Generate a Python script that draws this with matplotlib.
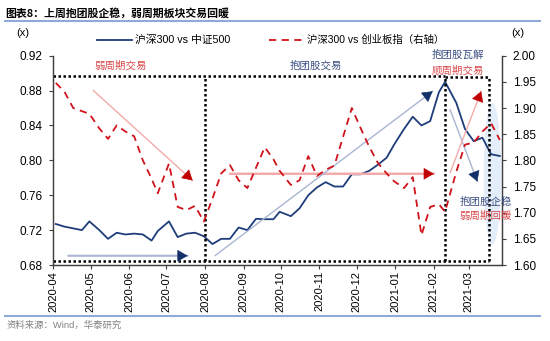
import matplotlib
matplotlib.use('Agg')
import matplotlib.pyplot as plt
import matplotlib.dates as mdates
from matplotlib.lines import Line2D
from matplotlib.patches import Ellipse
from matplotlib.ticker import FormatStrFormatter
import numpy as np
import pandas as pd

plt.rcParams['font.family'] = ['Liberation Sans', 'Noto Sans CJK SC']

# ---------------- data ----------------
dates = pd.to_datetime([
    '2020-04-03', '2020-04-10', '2020-04-17', '2020-04-24', '2020-04-30',
    '2020-05-08', '2020-05-15', '2020-05-22', '2020-05-29', '2020-06-05',
    '2020-06-12', '2020-06-19', '2020-06-24', '2020-07-03', '2020-07-10',
    '2020-07-17', '2020-07-24', '2020-07-31', '2020-08-07', '2020-08-14',
    '2020-08-21', '2020-08-28', '2020-09-04', '2020-09-11', '2020-09-18',
    '2020-09-25', '2020-09-30', '2020-10-09', '2020-10-16', '2020-10-23',
    '2020-10-30', '2020-11-06', '2020-11-13', '2020-11-20', '2020-11-27',
    '2020-12-04', '2020-12-11', '2020-12-18', '2020-12-25', '2020-12-31',
    '2021-01-08', '2021-01-15', '2021-01-22', '2021-01-29', '2021-02-05',
    '2021-02-10', '2021-02-19', '2021-02-26', '2021-03-05', '2021-03-12',
    '2021-03-19', '2021-03-26'])

hs300_vs_zz500 = [
    0.727, 0.724, 0.722, 0.720, 0.730,
    0.720, 0.710, 0.717, 0.715, 0.716,
    0.715, 0.708, 0.719, 0.730, 0.712,
    0.716, 0.717, 0.713, 0.704, 0.710,
    0.710, 0.723, 0.720, 0.733, 0.7325,
    0.7325, 0.741, 0.736, 0.745, 0.760,
    0.769, 0.775, 0.770, 0.770, 0.784,
    0.784, 0.788, 0.795, 0.803, 0.818,
    0.836, 0.850, 0.840, 0.845, 0.878,
    0.890, 0.866, 0.836, 0.822, 0.826,
    0.807, 0.805]

hs300_vs_cyb = [
    1.948, 1.931, 1.900, 1.894, 1.889,
    1.861, 1.841, 1.867, 1.855, 1.846,
    1.800, 1.765, 1.737, 1.794, 1.711,
    1.705, 1.713, 1.683, 1.727, 1.775,
    1.791, 1.762, 1.747, 1.786, 1.825,
    1.802, 1.780, 1.753, 1.762, 1.808,
    1.770, 1.782, 1.790, 1.845, 1.900,
    1.862, 1.826, 1.795, 1.775, 1.760,
    1.747, 1.768, 1.657, 1.711, 1.716,
    1.702, 1.778, 1.830, 1.834, 1.855,
    1.871, 1.839]

label_a = '沪深300 vs 中证500'
label_b = '沪深300 vs 创业板指（右轴）'
title = '图表8：上周抱团股企稳，弱周期板块交易回暖'
source = '资料来源：Wind，华泰研究'

left_ticks = [0.68, 0.72, 0.76, 0.80, 0.84, 0.88, 0.92]
right_ticks = [1.60, 1.65, 1.70, 1.75, 1.80, 1.85, 1.90, 1.95, 2.00]

# ---------------- style ----------------
NAVY = '#1f3d7a'
RED = '#d0121b'
RED_TXT = '#d9474a'
NAVY_TXT = '#3b4f80'
PINK = '#f3aaaa'
GREYBLUE = '#a9b5d2'
HEAD_RED = '#c00000'
HEAD_NAVY = '#14306b'
W, H = 550, 341

fig = plt.figure(figsize=(5.5, 3.41), dpi=100)
renderer = fig.canvas.get_renderer()


def fit(t, target_px):
    w = t.get_window_extent(renderer).width
    if w > 0:
        t.set_fontsize(t.get_fontsize() * target_px / w)
    return t


ax = fig.add_axes([53.3 / W, 1 - 265 / H, (502.3 - 53.3) / W, (265 - 55.7) / H])
ax2 = ax.twinx()

ax.plot(dates, hs300_vs_zz500, color=NAVY, lw=1.3, zorder=4)
ax2.plot(dates, hs300_vs_cyb, color=RED, lw=1.3, dashes=(4, 3), zorder=3)

ax.set_xlim(pd.Timestamp('2020-04-01'), pd.Timestamp('2021-03-28'))
ax.set_ylim(0.68, 0.92)
ax.set_yticks(left_ticks)
ax.yaxis.set_major_formatter(FormatStrFormatter('%.2f'))
ax2.set_ylim(1.60, 2.00)
ax2.set_yticks(right_ticks)
ax2.yaxis.set_major_formatter(FormatStrFormatter('%.2f'))
ax.xaxis.set_major_locator(mdates.MonthLocator())
ax.xaxis.set_major_formatter(mdates.DateFormatter('%Y-%m'))

for a in (ax, ax2):
    a.spines['top'].set_visible(False)
    for s in a.spines.values():
        s.set_color('#404040')
        s.set_linewidth(0.9)
    a.set_facecolor('none')
ax.tick_params(axis='y', direction='out', length=3, pad=5, labelsize=8.5, colors='#404040', labelcolor='black')
ax2.tick_params(axis='y', direction='out', length=3, pad=4.5, labelsize=8.5, colors='#404040', labelcolor='black')
ax.tick_params(axis='x', direction='out', length=3, pad=1.5, labelsize=8, labelrotation=90, colors='#404040', labelcolor='black')

# ---------------- decorations ----------------
T = pd.Timestamp
dot = dict(color='black', lw=1.8, linestyle=(0, (1, 1)), zorder=5, clip_on=False)
top1, top3, bot = 0.8967, 0.8953, 0.6846
ax.plot([T('2020-04-01'), T('2021-02-10')], [top1, top1], **dot)
ax.plot([T('2021-02-10'), T('2021-03-17')], [top3, top3], **dot)
ax.plot([T('2020-04-01'), T('2021-03-17')], [bot, bot], **dot)
for d, t in [('2020-08-01', top1), ('2021-02-10', top1), ('2021-03-17', top3)]:
    ax.plot([T(d), T(d)], [bot, t], **dot)

ell = Ellipse((mdates.date2num(T('2021-03-20')), 0.7846), width=14, height=0.163,
              facecolor='#e4eefa', edgecolor='none', zorder=0.5)
ax.add_patch(ell)


def arrow(p0, p1, shaft, head, lw=1.0):
    x0, y0 = mdates.date2num(T(p0[0])), p0[1]
    x1, y1 = mdates.date2num(T(p1[0])), p1[1]
    ax2.annotate('', xy=(x1, y1), xytext=(x0, y0), xycoords=ax.transData,
                 textcoords=ax.transData,
                 arrowprops=dict(arrowstyle='-', color=shaft, lw=lw,
                                 shrinkA=0, shrinkB=0), zorder=2)
    xm, ym = x1 - 0.03 * (x1 - x0), y1 - 0.03 * (y1 - y0)
    ax2.annotate('', xy=(x1, y1), xytext=(xm, ym), xycoords=ax.transData,
                 textcoords=ax.transData,
                 arrowprops=dict(arrowstyle='-|>,head_length=0.55,head_width=0.32',
                                 color=head, lw=0.5, mutation_scale=12,
                                 shrinkA=0, shrinkB=0), zorder=6)


arrow(('2020-05-03', 0.8803), ('2020-07-22', 0.7769), PINK, HEAD_RED)
arrow(('2020-04-13', 0.6906), ('2020-07-18', 0.6906), GREYBLUE, HEAD_NAVY, lw=1.5)
arrow(('2020-08-21', 0.7846), ('2021-02-01', 0.7846), PINK, HEAD_RED, lw=1.8)
arrow(('2020-08-09', 0.6907), ('2021-01-31', 0.8792), GREYBLUE, HEAD_NAVY)
arrow(('2021-02-14', 0.8582), ('2021-03-08', 0.7757), GREYBLUE, HEAD_NAVY)
arrow(('2021-02-14', 0.7857), ('2021-03-11', 0.8792), PINK, HEAD_RED)

txt = dict(fontsize=7.5, ha='center', va='center', transform=ax.transData,
           family=['Noto Sans CJK SC'], zorder=7)
notes = [
    (T('2020-05-25 12:00'), 0.9087, '弱周期交易', RED_TXT),
    (T('2020-10-29'), 0.9087, '抱团股交易', NAVY_TXT),
    (T('2021-02-20'), 0.9206, '抱团股瓦解', NAVY_TXT),
    (T('2021-02-20'), 0.9030, '顺周期交易', RED_TXT),
    (T('2021-03-15'), 0.7528, '抱团股企稳', NAVY_TXT),
    (T('2021-03-15'), 0.7367, '弱周期回暖', RED_TXT),
]
for x, y, s, c in notes:
    fit(ax2.text(x, y, s, color=c, **txt), 52)

# ---------------- legend & frame texts ----------------
ly = 1 - 40 / H
fig.add_artist(Line2D([96.7 / W, 131.7 / W], [ly, ly], color=NAVY, lw=1.3))
fig.add_artist(Line2D([269 / W, 302 / W], [ly, ly], color=RED, lw=1.3, dashes=(4, 3)))
fit(fig.text(135 / W, ly, label_a, fontsize=8, va='center', ha='left'), 96)
fit(fig.text(307 / W, ly, label_b, fontsize=8, va='center', ha='left'), 138)

fit(fig.text(5 / W, 1 - 13 / H, title, fontsize=8, fontweight='bold', va='center',
             ha='left', family=['Noto Sans CJK SC', 'Liberation Sans']), 225)
fig.add_artist(Line2D([5 / W, 540 / W], [1 - 21 / H] * 2, color='#8eaad8', lw=1.5))
fig.add_artist(Line2D([5 / W, 540 / W], [1 - 316 / H] * 2, color='#8eaad8', lw=1.5))
fit(fig.text(7 / W, 1 - 325 / H, source, fontsize=6.5, color='#808080', va='center',
             ha='left'), 115)
fig.text(23 / W, 1 - 33 / H, '(x)', fontsize=8, ha='center', va='center')
fig.text(518 / W, 1 - 33 / H, '(x)', fontsize=8, ha='center', va='center')

fig.savefig('out.png', dpi=100)
